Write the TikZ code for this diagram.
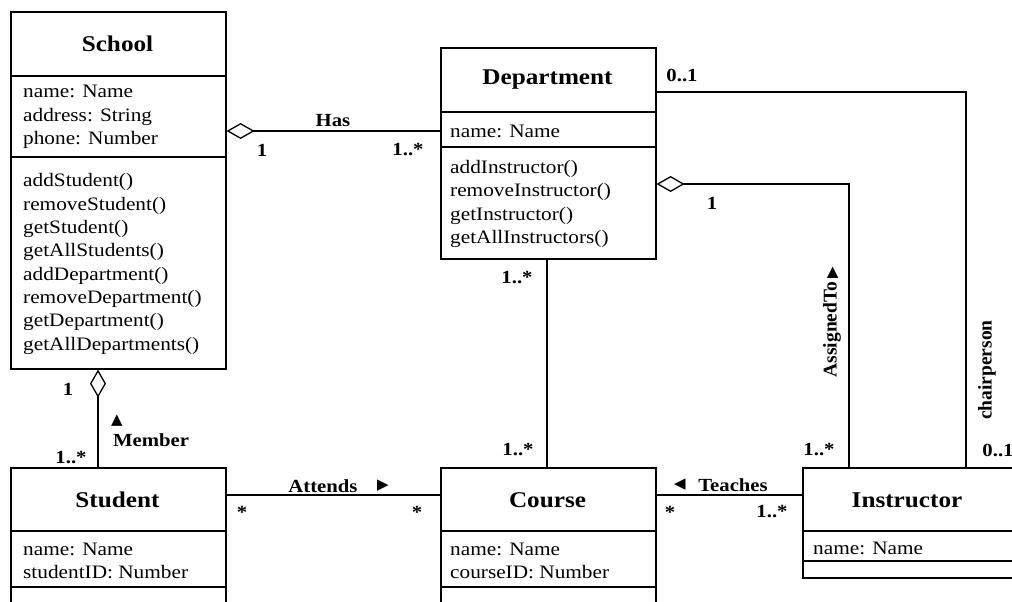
\documentclass[tikz,border=0pt]{standalone}
\usepackage{fontspec}
\setmainfont{Liberation Serif}[FakeStretch=1.12]
\newfontfamily\uprightserif{Liberation Serif}
\newfontfamily\symbolfont{DejaVu Sans}
\usetikzlibrary{arrows.meta,calc}

\newcommand\bodysize{\fontsize{19}{23.3}\selectfont}
\newcommand\titlesize{\fontsize{22.5}{26}\selectfont\bfseries}
\newcommand\labelsize{\fontsize{18.5}{20}\selectfont\bfseries}
\newcommand\tri[1]{{\symbolfont\fontsize{15}{15}\selectfont #1}}

\tikzset{
  classbox/.style={draw, line width=1.6pt, anchor=north west, inner sep=0pt},
  divider/.style={line width=1.6pt},
  classname/.style={font=\titlesize, inner sep=0pt},
  members/.style={font=\bodysize, align=left, anchor=west, inner sep=0pt},
  conn/.style={line width=1.4pt},
  agg/.style={conn, {Diamond[open, length=28pt, width=16pt, line width=1.3pt, fill=white]}-},
  lbl/.style={font=\labelsize, inner sep=0pt},
  vlbl/.style={font=\uprightserif\fontsize{19.5}{20}\selectfont\bfseries, inner sep=0pt, rotate=90}
}

\begin{document}
\begin{tikzpicture}[x=1pt,y=-1pt]
\clip (0,0) rectangle (1012,602);
\fill[white] (0,0) rectangle (1012,602);

% ---- class boxes ----
\node[classbox, minimum width=215pt, minimum height=357pt] (school) at (10,11) {};
\node[classbox, minimum width=215pt, minimum height=211pt] (dept) at (440,47) {};
\node[classbox, minimum width=215pt, minimum height=180pt] (student) at (10,467) {};
\node[classbox, minimum width=215pt, minimum height=180pt] (course) at (440,467) {};
\node[classbox, minimum width=240pt, minimum height=110pt] (instructor) at (802,467) {};

% compartment dividers
\draw[divider] (school.north west) ++(0,65) -- ++(215,0);
\draw[divider] (school.north west) ++(0,146) -- ++(215,0);
\draw[divider] (dept.north west) ++(0,65) -- ++(215,0);
\draw[divider] (dept.north west) ++(0,100) -- ++(215,0);
\draw[divider] (student.north west) ++(0,64) -- ++(215,0);
\draw[divider] (student.north west) ++(0,120) -- ++(215,0);
\draw[divider] (course.north west) ++(0,64) -- ++(215,0);
\draw[divider] (course.north west) ++(0,120) -- ++(215,0);
\draw[divider] (instructor.north west) ++(0,64) -- ++(240,0);
\draw[divider] (instructor.north west) ++(0,94) -- ++(240,0);

% ---- class contents ----
\node[classname] (school-name) at (117.5,44) {School};
\node[members] (school-attr) at (23,117) {name: Name\\address: String\\phone: Number};
\node[members] (school-ops) at (23,264) {addStudent()\\removeStudent()\\getStudent()\\getAllStudents()\\addDepartment()\\removeDepartment()\\getDepartment()\\getAllDepartments()};

\node[classname] (dept-name) at (547.5,80) {Department};
\node[members] (dept-attr) at (450,131) {name: Name};
\node[members] (dept-ops) at (450,204) {addInstructor()\\removeInstructor()\\getInstructor()\\getAllInstructors()};

\node[classname] (student-name) at (117.5,500) {Student};
\node[members] (student-attr) at (23,561) {name: Name\\studentID: Number};

\node[classname] (course-name) at (547.5,500) {Course};
\node[members] (course-attr) at (450,561) {name: Name\\courseID: Number};

\node[classname] (instructor-name) at (907,500) {Instructor};
\node[members] (instructor-attr) at (813,548) {name: Name};

% ---- associations ----
\draw[agg] ($(school.north east)+(0,120)$) -- ($(dept.north west)+(0,84)$);
\draw[agg] ($(school.south west)+(88,0)$) -- ($(student.north west)+(88,0)$);
\draw[conn] ($(student.north east)+(0,28)$) -- ($(course.north west)+(0,28)$);
\draw[conn] ($(course.north east)+(0,28)$) -- ($(instructor.north west)+(0,28)$);
\draw[conn] ($(dept.south west)+(107,0)$) -- ($(course.north west)+(107,0)$);
\draw[conn] ($(dept.north east)+(0,45)$) -| ($(instructor.north west)+(164,0)$);
\draw[agg] ($(dept.north east)+(0,137)$) -| ($(instructor.north west)+(47,0)$);

% ---- association names and multiplicities ----
\node[lbl] (has) at (333,121) {Has};
\node[lbl] (has-1) at (262,150) {1};
\node[lbl] (has-n) at (408,150) {1..*};

\node[lbl] (mem-1) at (68,389) {1};
\node[lbl] (mem-arrow) at (117,421) {\tri{▲}};
\node[lbl] (member) at (151,440) {Member};
\node[lbl] (mem-n) at (71,458) {1..*};

\node[lbl] (attends) at (323,486) {Attends};
\node[lbl] (att-arrow) at (383,486) {\tri{▶}};
\node[lbl] (att-s1) at (242,512) {*};
\node[lbl] (att-s2) at (417,512) {*};

\node[lbl] (teach-arrow) at (680,485) {\tri{◀}};
\node[lbl] (teaches) at (733,485) {Teaches};
\node[lbl] (teach-s) at (670,512) {*};
\node[lbl] (teach-n) at (772,512) {1..*};

\node[lbl] (dc-top) at (517,278) {1..*};
\node[lbl] (dc-bot) at (518,450) {1..*};

\node[lbl] (chair-top) at (682,75) {0..1};
\node[vlbl] (chair) at (987,370) {chairperson};
\node[lbl] (chair-bot) at (998,450) {0..1};

\node[lbl] (asg-1) at (712,203) {1};
\node[vlbl] (assigned) at (832,322) {AssignedTo\,\tri{▶}};
\node[lbl] (asg-n) at (819,450) {1..*};
\end{tikzpicture}
\end{document}
